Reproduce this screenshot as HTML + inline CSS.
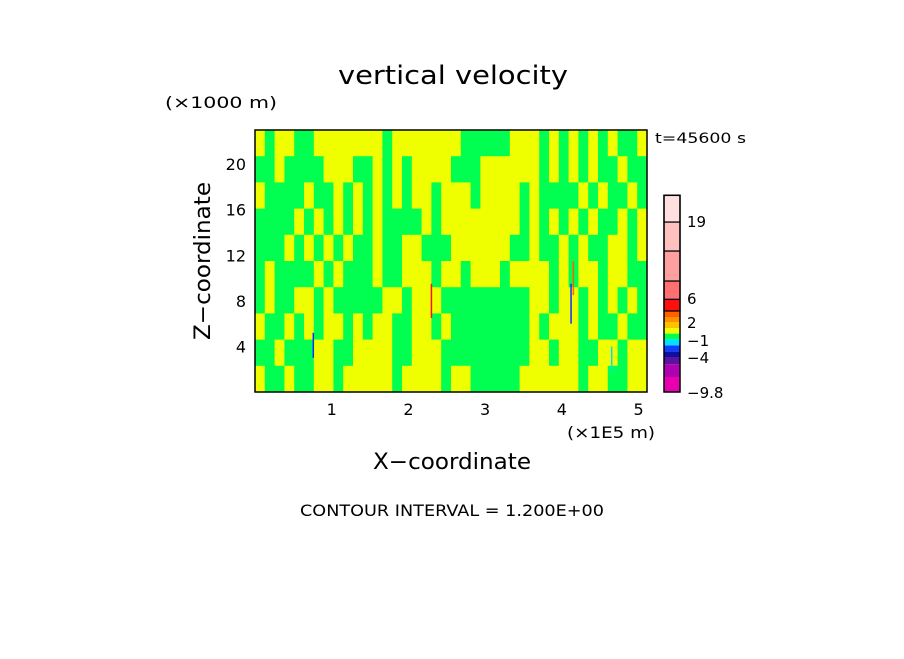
<!DOCTYPE html>
<html><head><meta charset="utf-8">
<style>
html,body{margin:0;padding:0;background:#fff;}
body{width:904px;height:654px;overflow:hidden;font-family:"Liberation Sans","DejaVu Sans",sans-serif;}
svg text{font-family:"DejaVu Sans","Liberation Sans",sans-serif;fill:#000;}
</style></head>
<body>
<svg id="chart" width="904" height="654" viewBox="0 0 904 654" xmlns="http://www.w3.org/2000/svg">
<text x="338" y="84" font-size="26" textLength="230" lengthAdjust="spacingAndGlyphs">vertical velocity</text>
<text x="165" y="108" font-size="16" textLength="112" lengthAdjust="spacingAndGlyphs">(×1000 m)</text>
<text x="655" y="143" font-size="14" textLength="91" lengthAdjust="spacingAndGlyphs">t=45600 s</text>
<g id="field"></g>
<g id="streaks"></g>
<rect x="255" y="130" width="392" height="262" fill="none" stroke="#000" stroke-width="1.5"/>
<g id="yticks"></g>
<g id="xticks"></g>
<text transform="translate(210,261) rotate(-90)" font-size="22" text-anchor="middle" textLength="158" lengthAdjust="spacingAndGlyphs">Z−coordinate</text>
<text x="567" y="438" font-size="16" textLength="88" lengthAdjust="spacingAndGlyphs">(×1E5 m)</text>
<text x="373" y="469" font-size="22" textLength="158" lengthAdjust="spacingAndGlyphs">X−coordinate</text>
<text x="300" y="516" font-size="16" textLength="304" lengthAdjust="spacingAndGlyphs">CONTOUR INTERVAL = 1.200E+00</text>
<g id="cbar"></g>
</svg>
<script>
// axis data
const xTicks=[1,2,3,4,5];
const yTicks=[4,8,12,16,20];
const xMin=0, xMax=5.11, yMin=0, yMax=23.0;
// field pattern rows (top to bottom), g = green band (-1..0.2), y = yellow band (0.2..1.4)
const fieldRows=[
"ygyyggyyyyyyygyyyyyyygggggyyygygygygyggy",
"ggyggggyyyggygygyyyygggyyyyyygygygyggygg",
"yggggyggygygygygyygyyygyyyygyggggygyggyg",
"ggggygygygygyggggygyyyyyyyygygygygyggygy",
"gggygygygyggyggyygggyyyyyyggyggygyggyygy",
"gyggggygygggyggyyygyygyyygyyyygygyygyygg",
"gyggyygygggggyygyyygggggggggyygyygygygyg",
"yggygygyygygyyggyygyggggggggygyyygyggygg",
"ggygggyyggyyyyggyyygggggggggyygyyggyygyy",
"yggyggyygyyyyygyyyygyygggggyyyyyygyyggyy"
];
// streaks: x (1E5 m), z bottom, z top (km), color
const streakX=[0.76,2.3,4.12,4.15,4.65];
const streakZ0=[3.0,6.5,6.0,8.5,1.8];
const streakZ1=[5.2,9.5,9.5,11.5,4.0];
const streakColor=["#1030ff","#ff1010","#1030ff","#ff6000","#00e0ff"];
// colorbar levels (bottom to top) and labels
const cbColors=["#e800b0","#b000b0","#6010a0","#1010a0","#1040ff","#00e0ff","#00ff50","#f0ff00","#ffc000","#ff9000","#ff6000","#ff1010","#ff7070","#ffa0a0","#ffc0c0","#ffe0e0"];
const cbHeights=[15,12.7,6.7,6.3,6,6,5.7,5.6,6,5,6,11.7,18.3,30,29,26.7];
const cbLabels=["19","6","2","−1","−4","−9.8"];
const cbLabelY=[221,298,322,340,357,392];

const NS="http://www.w3.org/2000/svg";
const L=255,R=647,T=130,B=392;
const sx=v=>L+(v-xMin)/(xMax-xMin)*(R-L);
const sy=v=>B-(v-yMin)/(yMax-yMin)*(B-T);
function mk(tag,attrs,parent){const e=document.createElementNS(NS,tag);for(const k in attrs)e.setAttribute(k,attrs[k]);parent.appendChild(e);return e;}
const field=document.getElementById('field');
const nr=fieldRows.length,nc=fieldRows[0].length;
for(let r=0;r<nr;r++){for(let c=0;c<nc;c++){
 const e=mk('rect',{x:L+c*(R-L)/nc,y:T+r*(B-T)/nr,width:(R-L)/nc+0.5,height:(B-T)/nr+0.5,fill:fieldRows[r][c]==='g'?'#00ff50':'#f0ff00'},field);
 
 
}}
const st=document.getElementById('streaks');
for(let i=0;i<streakX.length;i++){
 const e=mk('rect',{x:sx(streakX[i])-0.75,y:sy(streakZ1[i]),width:1.5,height:sy(streakZ0[i])-sy(streakZ1[i]),fill:streakColor[i]},st);
 
 
}
const yt=document.getElementById('yticks');
yTicks.forEach(v=>{const t=mk('text',{x:246,y:sy(v)+6,'font-size':16,'text-anchor':'end'},yt);t.textContent=v;
 
 });
const xt=document.getElementById('xticks');
xTicks.forEach(v=>{const t=mk('text',{x:sx(v),y:415,'font-size':16,'text-anchor':'middle'},xt);t.textContent=v;
 
 });
const cb=document.getElementById('cbar');
let y=392;
for(let i=0;i<cbColors.length;i++){const h=cbHeights[i];y-=h;
 const e=mk('rect',{x:664,y:y,width:16,height:h,fill:cbColors[i],stroke:'#000','stroke-width':(i>=11?1.2:0)},cb);
 
 }
const fr=mk('rect',{x:664,y:y,width:16,height:392-y,fill:'none',stroke:'#000','stroke-width':1.5},cb);


cbLabels.forEach((s,i)=>{const t=mk('text',{x:687,y:cbLabelY[i]+6,'font-size':15},cb);t.textContent=s;
 
 });
</script>
</body></html>
